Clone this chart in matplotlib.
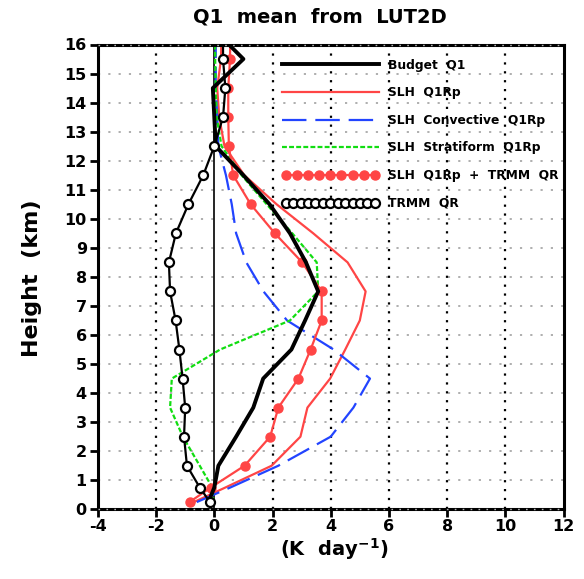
import matplotlib
matplotlib.use('Agg')
import matplotlib.pyplot as plt
from matplotlib.legend_handler import HandlerLine2D

# ---- data ----
heights = [0.25, 0.75, 1.5, 2.5, 3.5, 4.5, 5.5, 6.5, 7.5, 8.5, 9.5,
           10.5, 11.5, 12.5, 13.5, 14.5, 15.5, 16.5]
budget_q1 = [-0.2, 0.0, 0.14, 0.75, 1.34, 1.68, 2.65, 3.12, 3.57, 3.15, 2.6,
             1.9, 1.0, 0.05, 0.0, -0.05, 1.0, 0.0]
slh_q1rp = [-0.7, 0.38, 1.97, 2.96, 3.2, 3.98, 4.5, 5.0, 5.2, 4.58, 3.4,
            2.14, 1.03, 0.35, 0.17, 0.1, 0.23, 0.25]
slh_conv = [-0.6, 0.55, 2.2, 4.0, 4.78, 5.35, 4.1, 2.5, 1.69, 1.1, 0.75,
            0.6, 0.4, 0.14, 0.1, 0.05, 0.05, 0.05]
slh_strat = [-0.03, -0.07, -0.5, -1.08, -1.52, -1.46, 0.2, 2.6, 3.57, 3.52, 2.68,
             1.8, 0.94, 0.25, 0.08, 0.05, 0.03, 0.03]
slh_plus_qr = [-0.85, -0.12, 1.04, 1.92, 2.2, 2.89, 3.31, 3.69, 3.69, 3.02, 2.08,
               1.25, 0.65, 0.5, 0.48, 0.48, 0.54, 0.55]
trmm_qr = [-0.15, -0.5, -0.94, -1.04, -1.0, -1.09, -1.2, -1.33, -1.52, -1.56, -1.32,
           -0.89, -0.38, 0.0, 0.3, 0.38, 0.3, 0.3]

labels = ['Budget  Q1', 'SLH  Q1Rp', 'SLH  Convective  Q1Rp',
          'SLH  Stratiform  Q1Rp', 'SLH  Q1Rp  +  TRMM  QR', 'TRMM  QR']
xticks = [-4, -2, 0, 2, 4, 6, 8, 10, 12]
yticks = list(range(0, 17))

RED = '#FF4545'
BLUE = '#2244FF'
GREEN = '#11DD11'

plt.rcParams['font.family'] = ['DejaVu Sans']
plt.rcParams['font.weight'] = 'bold'
plt.rcParams['mathtext.default'] = 'bf'

W, H = 584, 579
fig = plt.figure(figsize=(W / 100, H / 100), dpi=100)
L, R, T, B = 97.9, 563.5, 44.5, 509.3
ax = fig.add_axes([L / W, 1 - B / H, (R - L) / W, (B - T) / H])
ax.set_xlim(-4, 12)
ax.set_ylim(0, 16)

# grid
for yv in yticks[1:-1]:
    ax.axhline(yv, color='#A8A8A8', lw=1.3, ls=(0, (1.2, 4.5)), zorder=1)
for xv in xticks[1:-1]:
    if xv != 0:
        ax.axvline(xv, color='black', lw=1.6, ls=(0, (1, 3)), zorder=1)
ax.axvline(0, color='black', lw=1.2, zorder=1.5)

l_red, = ax.plot(slh_q1rp, heights, color=RED, lw=1.6, zorder=3)
l_blue, = ax.plot(slh_conv, heights, color=BLUE, lw=1.6, ls=(0, (11, 4)), zorder=3)
l_green, = ax.plot(slh_strat, heights, color=GREEN, lw=1.6, ls=(0, (2.2, 1.0)), zorder=3)
l_dots, = ax.plot(slh_plus_qr, heights, color=RED, lw=1.6, marker='o', ms=6.5,
                  mfc=RED, mec=RED, zorder=4)
l_black, = ax.plot(budget_q1, heights, color='black', lw=2.8, zorder=5)
l_circ, = ax.plot(trmm_qr, heights, color='black', lw=1.6, marker='o', ms=6.5,
                  mfc='white', mec='black', mew=1.6, zorder=6)

# spines over grid dots at 0 and 16
for sp in ax.spines.values():
    sp.set_linewidth(2.2)
    sp.set_zorder(7)
for yv in (0, 16):
    ax.axhline(yv, color='#B0B0B0', lw=1.0, ls=(0, (1.2, 4.5)), zorder=8, clip_on=False)

ax.set_xticks(xticks)
ax.set_yticks(yticks)
ax.set_xticklabels([str(v) for v in xticks])
ax.set_yticklabels([str(v) for v in yticks])
ax.tick_params(direction='out', length=6, width=2, labelsize=11.5, pad=2)
ax.tick_params(axis='x', pad=1)
for lab in ax.get_xticklabels() + ax.get_yticklabels():
    lab.set_fontweight('bold')

fig.text(320 / W, 1 - 17 / H, 'Q1  mean  from  LUT2D', ha='center', va='center',
         fontsize=14, fontweight='bold')
fig.text(334 / W, 1 - 549 / H, r'(K  day$^{\mathbf{-1}}$)', ha='center', va='center',
         fontsize=14, fontweight='bold')
fig.text(32 / W, 1 - 278 / H, 'Height  (km)', ha='center', va='center',
         rotation=90, fontsize=16, fontweight='bold')

handles = [l_black, l_red, l_blue, l_green, l_dots, l_circ]
leg = ax.legend(handles, labels, loc='upper left',
                bbox_to_anchor=(282 / W, 1 - 58.5 / H), bbox_transform=fig.transFigure,
                frameon=False, fontsize=8.8, handlelength=7.9, handletextpad=0.75,
                labelspacing=1.2, borderpad=0, borderaxespad=0,
                handler_map={l_dots: HandlerLine2D(numpoints=9),
                             l_circ: HandlerLine2D(numpoints=13)})
for t in leg.get_texts():
    t.set_fontweight('bold')
leg.set_zorder(10)

fig.savefig('out.png', dpi=100)
